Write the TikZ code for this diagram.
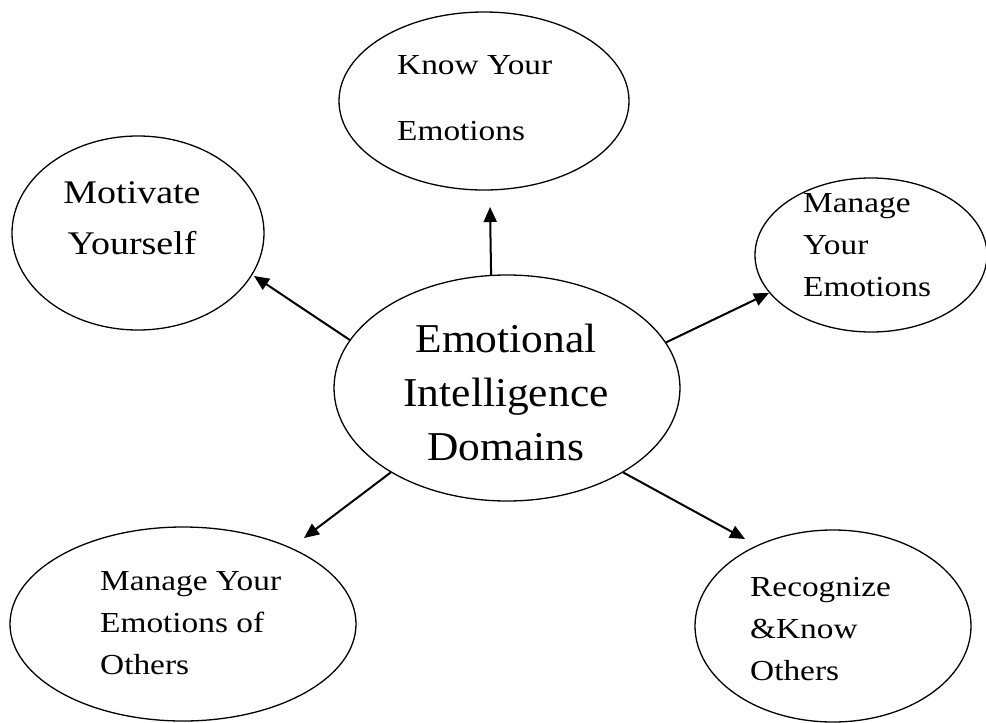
\documentclass[tikz,border=0pt]{standalone}
\usepackage{fontspec}
\setmainfont{Liberation Serif}
\newfontfamily\bubblefont[FakeStretch=1.15]{Liberation Serif}
\newfontfamily\hubfont[FakeStretch=1.06]{Liberation Serif}
\usetikzlibrary{arrows.meta,shapes.geometric}
\begin{document}
\begin{tikzpicture}[x=1pt,y=-1pt,
  bubble/.style={draw=black, line width=1.3pt, ellipse, inner sep=0pt},
  conn/.style={line width=2pt, -{Triangle[length=15pt,width=13pt]}},
  lbl/.style={inner sep=0pt, align=left, anchor=base west,
              font=\bubblefont\fontsize{29}{42}\selectfont},
  lblc/.style={inner sep=0pt, align=center, anchor=base,
               font=\bubblefont\fontsize{33}{51}\selectfont},
  hublbl/.style={inner sep=0pt, align=center, anchor=base,
                 font=\hubfont\fontsize{41}{54}\selectfont}]
\useasboundingbox (0,0) rectangle (986,723);

% ellipses
\node[bubble, minimum width=346pt, minimum height=226pt] (hub)    at (507,388) {};
\node[bubble, minimum width=290pt, minimum height=178pt] (know)   at (484,101) {};
\node[bubble, minimum width=252pt, minimum height=194pt] (motiv)  at (138,233) {};
\node[bubble, minimum width=232pt, minimum height=154pt] (manage) at (871,255) {};
\node[bubble, minimum width=346pt, minimum height=194pt] (others) at (183,624) {};
\node[bubble, minimum width=276pt, minimum height=192pt] (recog)  at (833,626) {};

% texts (each placed by the baseline of its last line)
\node[hublbl] (hubtxt) at (506,460) {Emotional\\Intelligence\\Domains};
\node[lbl, font=\bubblefont\fontsize{29}{66}\selectfont] (knowtxt) at (397,140) {Know Your\\Emotions};
\node[lblc] (motivtxt) at (132,254) {Motivate\\Yourself};
\node[lbl] (managetxt) at (803,296) {Manage\\Your\\Emotions};
\node[lbl] (otherstxt) at (100,674) {Manage Your\\Emotions of\\Others};
\node[lbl] (recogtxt) at (750,680) {Recognize\\\&Know\\Others};

% arrow tips
\coordinate (tknow)   at (490,207);
\coordinate (tmotiv)  at (254,276);
\coordinate (tmanage) at (769,293);
\coordinate (tothers) at (304,538);
\coordinate (trecog)  at (745,539);

% connectors
\draw[conn] (hub.98.6)  -- (tknow);
\draw[conn] (hub.163.4) -- (tmotiv);
\draw[conn] (hub.16)    -- (tmanage);
\draw[conn] (hub.216.2) -- (tothers);
\draw[conn] (hub.324.1) -- (trecog);
\end{tikzpicture}
\end{document}
